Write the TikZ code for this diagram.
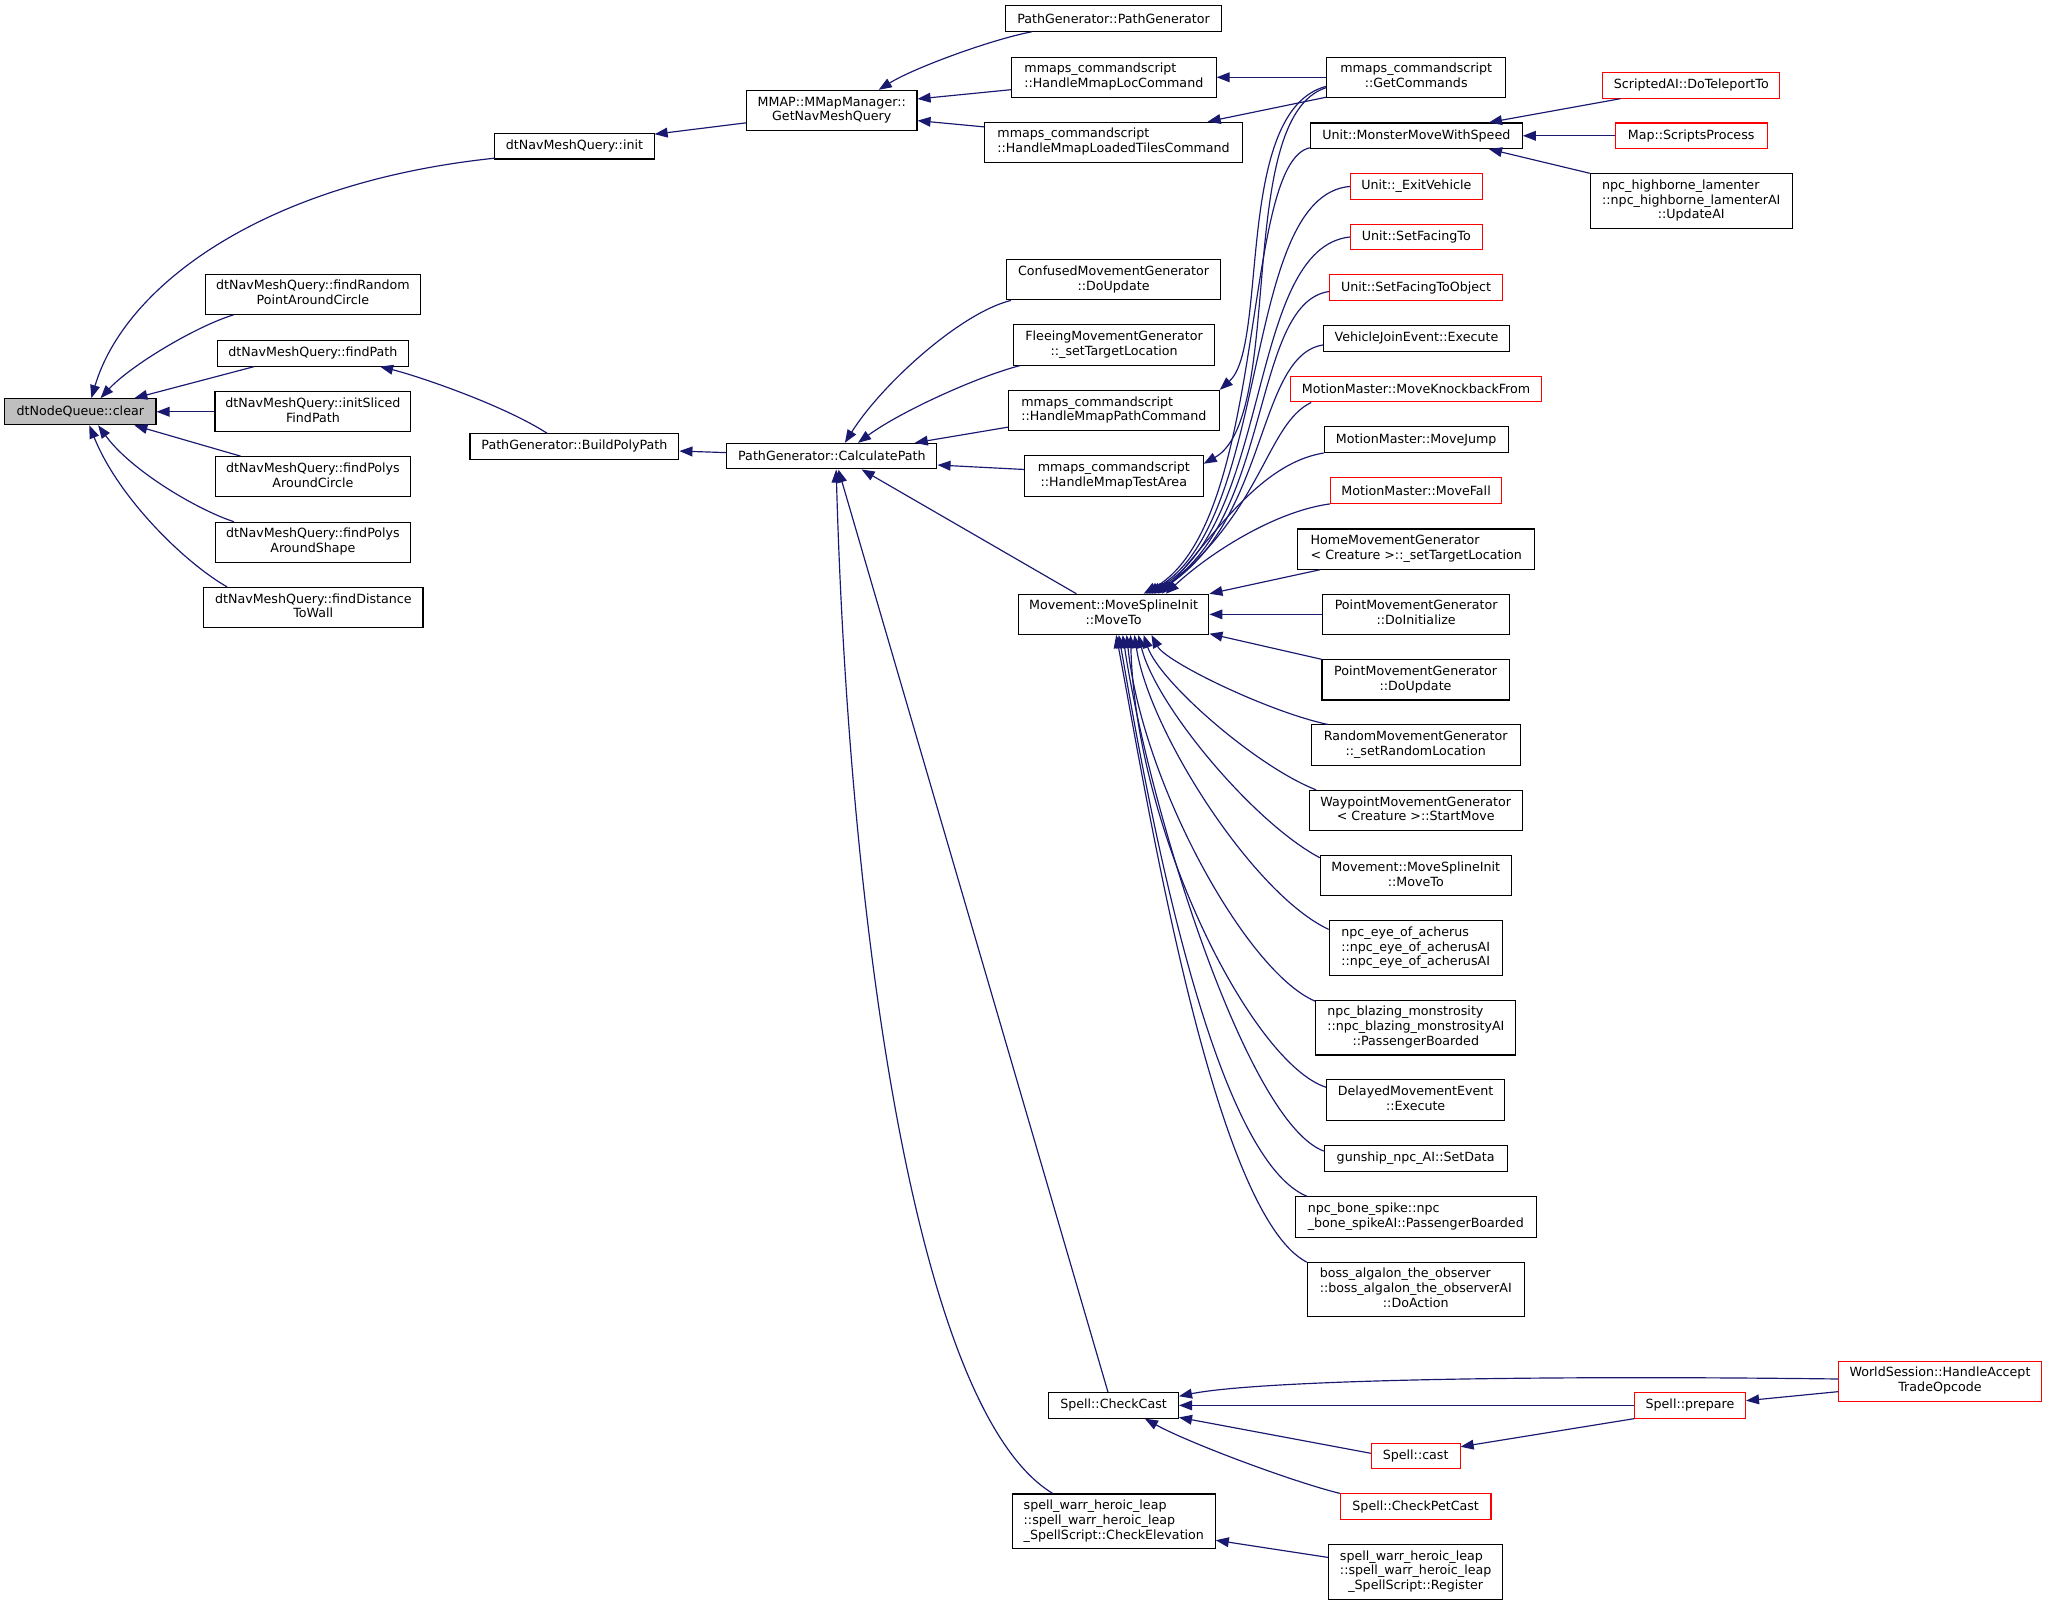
\documentclass[tikz,border=0pt]{standalone}
\usepackage{fontspec}
\usetikzlibrary{arrows.meta}
\newfontfamily\dxfont{DejaVu Sans}
\definecolor{edgecol}{HTML}{191970}
\definecolor{nodegray}{HTML}{BFBFBF}
\newcommand\dxtwo[2]{\begin{tabular}{@{}l@{}}#1\\\multicolumn{1}{@{}c@{}}{#2}\end{tabular}}
\newcommand\dxthree[3]{\begin{tabular}{@{}l@{}}#1\\#2\\\multicolumn{1}{@{}c@{}}{#3}\end{tabular}}
\tikzset{
  box/.style={draw=black, line width=0.8pt, fill=white, inner sep=1pt,
    font={\dxfont\fontsize{9.7}{11.3}\selectfont}, align=center},
  redbox/.style={box, draw=red},
  graybox/.style={box, fill=nodegray},
  one/.style={minimum height=19.6pt},
  two/.style={minimum height=30.8pt},
  three/.style={minimum height=41.8pt},
  mw/.style={minimum width=#1pt},
  call/.style={draw=edgecol, line width=0.9pt, -{Triangle[length=10pt,width=7.5pt]}, edgecol}
}
\begin{document}
\begin{tikzpicture}[x=1pt,y=-1pt]
\useasboundingbox (0,0) rectangle (1568,1229.4);
% ---- nodes ----
\node[graybox, mw=116, minimum height=20pt] (clear) at (61.5,315.4) {dtNodeQueue::clear};
\node[box, one, mw=122] (init) at (440,112) {dtNavMeshQuery::init};
\node[box, two, mw=165] (findRandom) at (239.7,225.4) {\dxtwo{dtNavMeshQuery::findRandom}{PointAroundCircle}};
\node[box, one, mw=146] (findPath) at (239.7,270.6) {dtNavMeshQuery::findPath};
\node[box, two, mw=150] (initSliced) at (239.7,315.4) {\dxtwo{dtNavMeshQuery::initSliced}{FindPath}};
\node[box, two, mw=149] (polysCircle) at (239.7,365.2) {\dxtwo{dtNavMeshQuery::findPolys}{AroundCircle}};
\node[box, two, mw=149] (polysShape) at (239.7,415.4) {\dxtwo{dtNavMeshQuery::findPolys}{AroundShape}};
\node[box, two, mw=168] (distWall) at (240,465.4) {\dxtwo{dtNavMeshQuery::findDistance}{ToWall}};
\node[box, one, mw=160] (buildPoly) at (440,342) {PathGenerator::BuildPolyPath};
\node[box, two, mw=130.6] (gmq) at (637.1,84.6) {\dxtwo{MMAP::MMapManager::}{GetNavMeshQuery}};
\node[box, one, mw=161] (cp) at (637.2,349.4) {PathGenerator::CalculatePath};
\node[box, one, mw=166] (pgpg) at (853,14.1) {PathGenerator::PathGenerator};
\node[box, two, mw=156.6] (locCmd) at (853.2,59.2) {\dxtwo{mmaps\_commandscript}{::HandleMmapLocCommand}};
\node[box, two, mw=197.3] (tilesCmd) at (853,109) {\dxtwo{mmaps\_commandscript}{::HandleMmapLoadedTilesCommand}};
\node[box, two, mw=164.5] (confused) at (853,214.3) {\dxtwo{ConfusedMovementGenerator}{::DoUpdate}};
\node[box, two, mw=153.6] (fleeing) at (853.4,264.3) {\dxtwo{FleeingMovementGenerator}{::\_setTargetLocation}};
\node[box, two, mw=161.5] (pathCmd) at (853.2,314.4) {\dxtwo{mmaps\_commandscript}{::HandleMmapPathCommand}};
\node[box, two, mw=136.8] (testArea) at (853.2,364.6) {\dxtwo{mmaps\_commandscript}{::HandleMmapTestArea}};
\node[box, two, mw=146] (moveTo) at (853,470.6) {\dxtwo{Movement::MoveSplineInit}{::MoveTo}};
\node[box, one, mw=99.4] (checkCast) at (853,1076.5) {Spell::CheckCast};
\node[box, three, mw=155.3] (checkElev) at (853.2,1165.3) {\dxthree{spell\_warr\_heroic\_leap}{::spell\_warr\_heroic\_leap}{\_SpellScript::CheckElevation}};
\node[box, two, mw=137.5] (getCmds) at (1084.8,59.2) {\dxtwo{mmaps\_commandscript}{::GetCommands}};
\node[box, one, mw=162.4] (monster) at (1084.9,104) {Unit::MonsterMoveWithSpeed};
\node[redbox, one, mw=100.8] (exitVeh) at (1084.9,142.8) {Unit::\_ExitVehicle};
\node[redbox, one, mw=100.8] (facingTo) at (1084.9,181.5) {Unit::SetFacingTo};
\node[redbox, one, mw=132.6] (facingObj) at (1084.7,220.3) {Unit::SetFacingToObject};
\node[box, one, mw=141.9] (vehJoin) at (1085,259.2) {VehicleJoinEvent::Execute};
\node[redbox, one, mw=192.7] (knockback) at (1084.7,298.1) {MotionMaster::MoveKnockbackFrom};
\node[box, one, mw=140.9] (moveJump) at (1084.8,336.8) {MotionMaster::MoveJump};
\node[redbox, one, mw=131.4] (moveFall) at (1084.7,375.8) {MotionMaster::MoveFall};
\node[box, two, mw=181.6] (homeGen) at (1084.9,420.6) {\dxtwo{HomeMovementGenerator}{< Creature >::\_setTargetLocation}};
\node[box, two, mw=143.5] (pointInit) at (1084.8,470.6) {\dxtwo{PointMovementGenerator}{::DoInitialize}};
\node[box, two, mw=143.3] (pointUpd) at (1084.3,520.8) {\dxtwo{PointMovementGenerator}{::DoUpdate}};
\node[box, two, mw=160] (randomGen) at (1084.4,570.7) {\dxtwo{RandomMovementGenerator}{::\_setRandomLocation}};
\node[box, two, mw=163] (waypoint) at (1084.4,620.8) {\dxtwo{WaypointMovementGenerator}{< Creature >::StartMove}};
\node[box, two, mw=146.3] (moveTo2) at (1084.5,670.8) {\dxtwo{Movement::MoveSplineInit}{::MoveTo}};
\node[box, three, mw=132.5] (eye) at (1084.4,726.2) {\dxthree{npc\_eye\_of\_acherus}{::npc\_eye\_of\_acherusAI}{::npc\_eye\_of\_acherusAI}};
\node[box, three, mw=153.3] (blazing) at (1084.5,787.2) {\dxthree{npc\_blazing\_monstrosity}{::npc\_blazing\_monstrosityAI}{::PassengerBoarded}};
\node[box, two, mw=136.6] (delayed) at (1084.4,842.6) {\dxtwo{DelayedMovementEvent}{::Execute}};
\node[box, one, mw=140] (gunship) at (1084.4,887.4) {gunship\_npc\_AI::SetData};
\node[box, two, mw=185] (boneSpike) at (1084.5,932.2) {\dxtwo{npc\_bone\_spike::npc}{\_bone\_spikeAI::PassengerBoarded}};
\node[box, three, mw=166.2] (algalon) at (1084.5,987.6) {\dxthree{boss\_algalon\_the\_observer}{::boss\_algalon\_the\_observerAI}{::DoAction}};
\node[redbox, one, mw=68] (spellCast) at (1084.4,1115.2) {Spell::cast};
\node[redbox, one, mw=115.4] (petCast) at (1084.4,1154.1) {Spell::CheckPetCast};
\node[box, three, mw=133] (register) at (1084.4,1204) {\dxthree{spell\_warr\_heroic\_leap}{::spell\_warr\_heroic\_leap}{\_SpellScript::Register}};
\node[redbox, one, mw=135.7] (teleport) at (1295.5,65.4) {ScriptedAI::DoTeleportTo};
\node[redbox, one, mw=116.3] (scripts) at (1295.4,104) {Map::ScriptsProcess};
\node[box, three, mw=154.9] (highborne) at (1295.5,154) {\dxthree{npc\_highborne\_lamenter}{::npc\_highborne\_lamenterAI}{::UpdateAI}};
\node[redbox, one, mw=85] (prepare) at (1294.5,1076.5) {Spell::prepare};
\node[redbox, two, mw=155.4] (worldSess) at (1486,1058) {\dxtwo{WorldSession::HandleAccept}{TradeOpcode}};
% ---- edges (caller -> callee) ----
\draw[call] ([yshift=1pt]init.south west) .. controls (200,140) and (95,220) .. ([xshift=8.5pt]clear.north);
\draw[call] ([xshift=22pt]findRandom.south west) .. controls (150,250) and (100,280) .. ([xshift=15.5pt]clear.north);
\draw[call] ([xshift=28.5pt]findPath.south west) -- ([xshift=-17pt]clear.north east);
\draw[call] (initSliced.west) -- (clear.east);
\draw[call] ([xshift=19.5pt]polysCircle.north west) -- ([xshift=-17pt]clear.south east);
\draw[call] ([xshift=14.3pt]polysShape.north west) .. controls (150,390) and (100,360) .. ([xshift=13.7pt]clear.south);
\draw[call] ([xshift=18.4pt]distWall.north west) .. controls (140,430) and (90,380) .. ([xshift=7pt]clear.south);
\draw[call] ([yshift=6.3pt]gmq.south west) -- ([yshift=-1pt]init.north east);
\draw[call] ([xshift=-21pt]buildPoly.north) .. controls (385,310) and (320,288) .. ([xshift=-22pt]findPath.south east);
\draw[call] ([yshift=2.7pt]cp.west) -- ([yshift=-3.5pt]buildPoly.east);
\draw[call] ([xshift=21pt]pgpg.south west) .. controls (760,30) and (700,52) .. ([xshift=36pt]gmq.north);
\draw[call] ([yshift=6.3pt]locCmd.south west) -- ([yshift=-7pt]gmq.north east);
\draw[call] ([yshift=-4pt]tilesCmd.north west) -- ([yshift=8pt]gmq.south east);
\draw[call] ([xshift=4pt]confused.south west) .. controls (735,240) and (675,295) .. ([xshift=10pt]cp.north);
\draw[call] ([xshift=5pt]fleeing.south west) .. controls (750,288) and (690,315) .. ([xshift=20pt]cp.north);
\draw[call] ([yshift=3pt]pathCmd.south west) -- ([xshift=-17.4pt]cp.north east);
\draw[call] ([yshift=5pt]testArea.west) -- ([yshift=3.4pt]cp.south east);
\draw[call] ([xshift=-28.5pt]moveTo.north) -- ([xshift=22.8pt]cp.south);
\draw[call] ([xshift=-4.3pt]checkCast.north) -- ([xshift=5pt]cp.south);
\draw[call] ([xshift=31.3pt]checkElev.north west) .. controls (700,1080) and (650,700) .. ([xshift=3.3pt]cp.south);
\draw[call] (getCmds.west) -- (locCmd.east);
\draw[call] ([yshift=0.5pt]getCmds.south west) -- ([xshift=-27pt]tilesCmd.north east);
\draw[call] ([yshift=-7pt]getCmds.west) .. controls (945,85) and (972,265) .. (pathCmd.north east);
\draw[call] ([yshift=-8pt]getCmds.west) .. controls (945,90) and (985,320) .. ([yshift=-6.4pt]testArea.north east);
\draw[call] ([yshift=1pt]monster.south west) .. controls (950,125) and (972,400) .. ([xshift=23pt]moveTo.north);
\draw[call] (exitVeh.west) .. controls (950,150) and (975,400) .. ([xshift=25pt]moveTo.north);
\draw[call] (facingTo.west) .. controls (955,190) and (975,400) .. ([xshift=27pt]moveTo.north);
\draw[call] ([yshift=-3pt]facingObj.west) .. controls (958,232) and (975,400) .. ([xshift=29pt]moveTo.north);
\draw[call] ([yshift=-5pt]vehJoin.west) .. controls (962,272) and (972,400) .. ([xshift=31pt]moveTo.north);
\draw[call] ([xshift=16.4pt]knockback.south west) .. controls (970,325) and (968,390) .. ([xshift=34pt]moveTo.north);
\draw[call] (moveJump.south west) .. controls (965,355) and (930,410) .. ([xshift=37pt]moveTo.north);
\draw[call] (moveFall.south west) .. controls (975,392) and (925,425) .. ([xshift=40pt]moveTo.north);
\draw[call] ([xshift=17.5pt]homeGen.south west) -- (moveTo.north east);
\draw[call] (pointInit.west) -- (moveTo.east);
\draw[call] (pointUpd.north west) -- ([yshift=1pt]moveTo.south east);
\draw[call] ([xshift=13pt]randomGen.north west) .. controls (971,545) and (893,507) .. ([xshift=29pt]moveTo.south);
\draw[call] ([xshift=5.6pt]waypoint.north west) .. controls (962,587) and (888,522) .. ([xshift=23pt]moveTo.south);
\draw[call] ([yshift=-2pt]moveTo2.north west) .. controls (960,630) and (885,540) .. ([xshift=19pt]moveTo.south);
\draw[call] ([yshift=-7pt]eye.north west) .. controls (960,685) and (880,560) .. ([xshift=16pt]moveTo.south);
\draw[call] ([yshift=-1pt]blazing.north west) .. controls (955,745) and (875,600) .. ([xshift=10pt]moveTo.south);
\draw[call] ([yshift=-6pt]delayed.north west) .. controls (960,815) and (870,640) .. ([xshift=13pt]moveTo.south);
\draw[call] ([yshift=-4.5pt]gunship.north west) .. controls (955,860) and (880,620) .. ([xshift=7pt]moveTo.south);
\draw[call] ([xshift=9.6pt]boneSpike.north west) .. controls (925,885) and (875,590) .. ([xshift=4pt]moveTo.south);
\draw[call] ([yshift=-0.5pt]algalon.north west) .. controls (930,930) and (880,620) .. ([xshift=2pt]moveTo.south);
\draw[call] ([xshift=14pt]teleport.south west) -- ([xshift=-26pt]monster.north east);
\draw[call] (scripts.west) -- (monster.east);
\draw[call] (highborne.north west) -- ([xshift=-26pt]monster.south east);
\draw[call] ([yshift=1.7pt]worldSess.west) .. controls (1150,1053) and (960,1058) .. ([yshift=-3.2pt]checkCast.north east);
\draw[call] (prepare.west) -- (checkCast.east);
\draw[call] ([yshift=2pt]spellCast.west) -- ([yshift=1pt]checkCast.south east);
\draw[call] (petCast.north west) .. controls (990,1135) and (910,1105) .. ([xshift=24pt]checkCast.south);
\draw[call] (prepare.south west) -- ([yshift=7pt]spellCast.east);
\draw[call] ([yshift=-8pt]worldSess.west) -- ([yshift=3.6pt]prepare.east);
\draw[call] ([yshift=11pt]register.west) -- ([yshift=-14.5pt]checkElev.east);
\end{tikzpicture}
\end{document}
